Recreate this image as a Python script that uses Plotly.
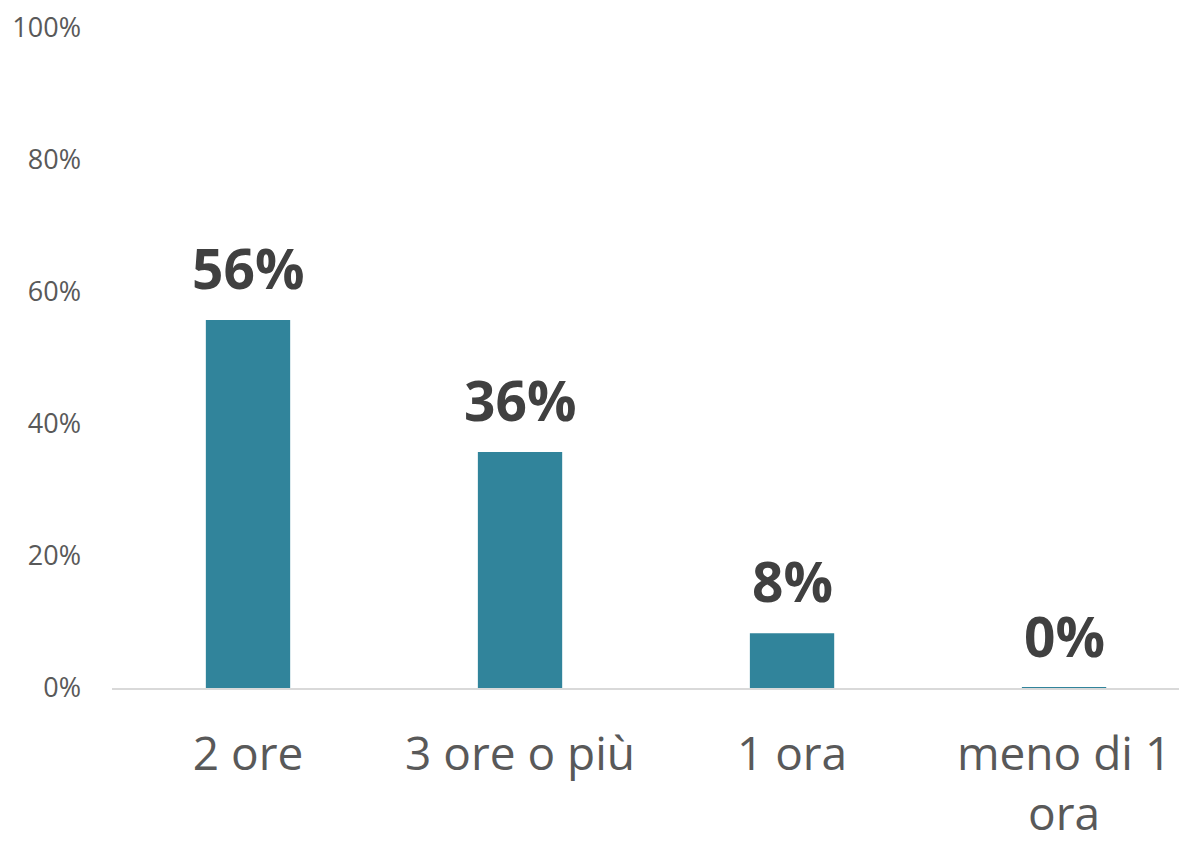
import plotly.graph_objects as go

categories = ["2 ore", "3 ore o più", "1 ora", "meno di 1<br>ora"]
values = [55.7, 35.7, 8.3, 0.05]
labels = ["56%", "36%", "8%", "0%"]
y_ticks = [0, 20, 40, 60, 80, 100]
y_tick_text = ["0%", "20%", "40%", "60%", "80%", "100%"]

BAR_COLOR = "#31849B"

fig = go.Figure()
fig.add_trace(go.Bar(
    x=categories, y=values,
    marker=dict(color=BAR_COLOR, line=dict(width=0)),
    width=0.31,
    hoverinfo="skip",
))

for c, v, t in zip(categories, values, labels):
    fig.add_annotation(
        x=c, y=v, text=t, showarrow=False,
        yanchor="bottom", yshift=13,
        font=dict(family="Open Sans", size=55, color="#404040", weight="bold"),
    )

fig.update_layout(
    width=1179, height=834,
    margin=dict(l=104, r=0, t=0, b=154),
    paper_bgcolor="white", plot_bgcolor="white",
    showlegend=False,
)
fig.update_xaxes(
    range=[-0.5, 3.452],
    showline=True, linecolor="#D9D9D9", linewidth=2,
    showgrid=False, zeroline=False, ticks="",
    tickfont=dict(family="Open Sans", size=46, color="#595959"),
    ticklabelstandoff=25,
)
fig.update_yaxes(
    range=[0, 102.9],
    tickvals=y_ticks, ticktext=y_tick_text,
    showgrid=False, zeroline=False, showline=False, ticks="",
    tickfont=dict(family="Open Sans", size=27, color="#595959"),
    ticklabelstandoff=30,
    ticklabeloverflow="allow",
)

fig.write_html("out.html")
